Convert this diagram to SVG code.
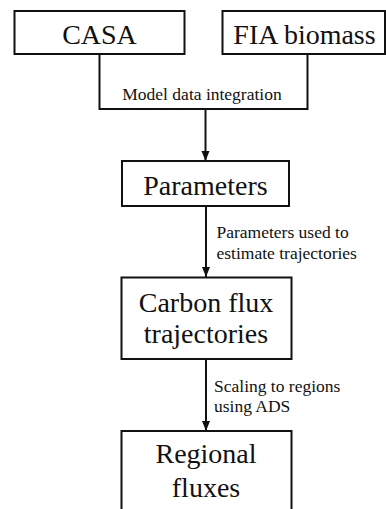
<svg xmlns="http://www.w3.org/2000/svg" width="386" height="509" viewBox="0 0 386 509">
  <style>
    .box { fill: #ffffff; stroke: #111111; stroke-width: 2; }
    .title { font-size: 28px; fill: #111111; text-anchor: middle; }
    .label { font-size: 17.5px; fill: #111111; }
    .wire { fill: none; stroke: #111111; stroke-width: 2; }
  </style>
  <defs>
    <marker id="arrow" markerUnits="userSpaceOnUse" markerWidth="10" markerHeight="10" viewBox="0 0 10 10" refX="10" refY="5" orient="auto">
      <path d="M0,1 L10,5 L0,9 Z" fill="#111111"/>
    </marker>
  </defs>
  <rect width="386" height="509" fill="#ffffff"/>

  <g font-family="Liberation Serif, Times New Roman, serif">
  <g id="connectors">
    <path class="wire" d="M99.5,54 V109 H307.5 V54"/>
    <path class="wire" d="M205.5,109 V161" marker-end="url(#arrow)"/>
    <path class="wire" d="M206,206 V277" marker-end="url(#arrow)"/>
    <path class="wire" d="M206,359 V431" marker-end="url(#arrow)"/>
    <text class="label" x="202" y="100" text-anchor="middle">Model data integration</text>
    <text class="label" x="216.5" y="238">Parameters used to</text>
    <text class="label" x="216.5" y="259">estimate trajectories</text>
    <text class="label" x="214" y="391.5">Scaling to regions</text>
    <text class="label" x="214" y="412">using ADS</text>
  </g>

  <g id="casa">
    <rect class="box" x="14.5" y="11" width="170" height="43"/>
    <text class="title" x="99.5" y="44">CASA</text>
  </g>

  <g id="fia-biomass">
    <rect class="box" x="222.5" y="11" width="162.5" height="43"/>
    <text class="title" x="304.5" y="44">FIA biomass</text>
  </g>

  <g id="parameters">
    <rect class="box" x="122" y="161" width="167" height="45"/>
    <text class="title" x="205.5" y="195">Parameters</text>
  </g>

  <g id="carbon-flux-trajectories">
    <rect class="box" x="121.5" y="277.5" width="170" height="81.5"/>
    <text class="title" x="206" y="311.5">Carbon flux</text>
    <text class="title" x="206" y="343">trajectories</text>
  </g>

  <g id="regional-fluxes">
    <rect class="box" x="121.5" y="431" width="170" height="90"/>
    <text class="title" x="206" y="463">Regional</text>
    <text class="title" x="206" y="496.5">fluxes</text>
  </g>
  </g>
</svg>
